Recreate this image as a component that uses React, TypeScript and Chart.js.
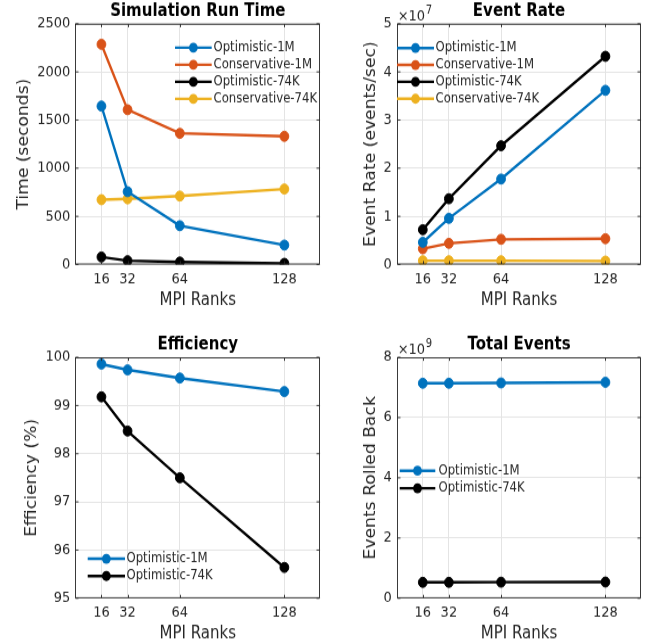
import React, { useEffect, useRef } from "react";
import { Chart, registerables } from "chart.js";

Chart.register(...registerables);

// ---------------- data ----------------
const ranks = [16, 32, 64, 128];
const xTickValues = [16, 32, 64, 128];

const runTimeOptimistic1M = [1645, 756, 403, 202];
const runTimeConservative1M = [2286, 1607, 1362, 1331];
const runTimeOptimistic74K = [78, 40, 26, 12];
const runTimeConservative74K = [673, 682, 711, 784];

const eventRateOptimistic1M = [0.461e7, 0.959e7, 1.775e7, 3.617e7];
const eventRateConservative1M = [0.328e7, 0.44e7, 0.523e7, 0.536e7];
const eventRateOptimistic74K = [0.723e7, 1.366e7, 2.467e7, 4.323e7];
const eventRateConservative74K = [0.079e7, 0.079e7, 0.078e7, 0.072e7];

const efficiencyOptimistic1M = [99.86, 99.74, 99.57, 99.29];
const efficiencyOptimistic74K = [99.18, 98.47, 97.5, 95.64];

const rolledBackOptimistic1M = [7.14e9, 7.14e9, 7.15e9, 7.17e9];
const rolledBackOptimistic74K = [0.53e9, 0.53e9, 0.535e9, 0.54e9];

const seriesNames = ["Optimistic-1M", "Conservative-1M", "Optimistic-74K", "Conservative-74K"];
const panelTitles = ["Simulation Run Time", "Event Rate", "Efficiency", "Total Events"];
const yAxisTitles = ["Time (seconds)", "Event Rate (events/sec)", "Efficiency (%)", "Events Rolled Back"];
const xAxisTitle = "MPI Ranks";

// ---------------- style ----------------
const FONT = "'DejaVu Sans', sans-serif";
const AXIS_COLOR = "#262626";
const GRID_COLOR = "#e4e4e4";
const BLUE = "#0072BD";
const ORANGE = "#D95319";
const BLACK = "#000000";
const YELLOW = "#EDB120";

// Each panel: CSS box 328x322, canvas drawn at 328x283 and stretched vertically
const CW = 328;
const CSS_H = 322;
const CH = 283;
const S = CSS_H / CH;
const XH = 40.2;
const Y_TITLE_SIZE = 15.1;

interface SeriesDef { label: string; data: number[]; color: string; }
interface PanelDef {
  pageX: number; pageY: number;
  title: string; yTitle: string;
  series: SeriesDef[];
  yMin: number; yMax: number; yStep: number; yDivisor: number; exponent: string | null;
  area: { left: number; right: number; top: number; bottom: number };
  titleY: number; yTitleX: number;
  legend: { x0: number; x1: number; tx: number; y0: number; dy: number };
}

// geometry below in CSS pixels relative to each panel; converted to canvas units
const panels: PanelDef[] = [
  {
    pageX: 0, pageY: 0,
    title: panelTitles[0], yTitle: yAxisTitles[0],
    series: [
      { label: seriesNames[0], data: runTimeOptimistic1M, color: BLUE },
      { label: seriesNames[1], data: runTimeConservative1M, color: ORANGE },
      { label: seriesNames[2], data: runTimeOptimistic74K, color: BLACK },
      { label: seriesNames[3], data: runTimeConservative74K, color: YELLOW },
    ],
    yMin: 0, yMax: 2500, yStep: 500, yDivisor: 1, exponent: null,
    area: { left: 75.3, right: 320.3, top: 23.7, bottom: 264.5 },
    titleY: 11.2, yTitleX: 24,
    legend: { x0: 175, x1: 211.7, tx: 213.5, y0: 47.6, dy: 17.1 },
  },
  {
    pageX: 328, pageY: 0,
    title: panelTitles[1], yTitle: yAxisTitles[1],
    series: [
      { label: seriesNames[0], data: eventRateOptimistic1M, color: BLUE },
      { label: seriesNames[1], data: eventRateConservative1M, color: ORANGE },
      { label: seriesNames[2], data: eventRateOptimistic74K, color: BLACK },
      { label: seriesNames[3], data: eventRateConservative74K, color: YELLOW },
    ],
    yMin: 0, yMax: 5e7, yStep: 1e7, yDivisor: 1e7, exponent: "7",
    area: { left: 68.7, right: 313.3, top: 23.7, bottom: 264.5 },
    titleY: 11.2, yTitleX: 43,
    legend: { x0: 69, x1: 106, tx: 107.5, y0: 48, dy: 16.9 },
  },
  {
    pageX: 0, pageY: 322,
    title: panelTitles[2], yTitle: yAxisTitles[2],
    series: [
      { label: seriesNames[0], data: efficiencyOptimistic1M, color: BLUE },
      { label: seriesNames[2], data: efficiencyOptimistic74K, color: BLACK },
    ],
    yMin: 95, yMax: 100, yStep: 1, yDivisor: 1, exponent: null,
    area: { left: 75.3, right: 320.3, top: 35.3, bottom: 276.3 },
    titleY: 23.0, yTitleX: 32.5,
    legend: { x0: 87.7, x1: 125, tx: 126.5, y0: 236.7, dy: 17.3 },
  },
  {
    pageX: 328, pageY: 322,
    title: panelTitles[3], yTitle: yAxisTitles[3],
    series: [
      { label: seriesNames[0], data: rolledBackOptimistic1M, color: BLUE },
      { label: seriesNames[2], data: rolledBackOptimistic74K, color: BLACK },
    ],
    yMin: 0, yMax: 8e9, yStep: 2e9, yDivisor: 1e9, exponent: "9",
    area: { left: 68.7, right: 313.3, top: 35.3, bottom: 276.3 },
    titleY: 23.0, yTitleX: 43,
    legend: { x0: 71.7, x1: 107.3, tx: 110.5, y0: 148.7, dy: 17.6 },
  },
];

const decoPlugin = {
  id: "deco",
  afterDraw(chart: any, _args: any, opts: any) {
    const { ctx, chartArea: a } = chart;
    const xs = chart.scales.x;
    const ys = chart.scales.y;
    ctx.save();
    ctx.strokeStyle = AXIS_COLOR;
    const L = Math.round(a.left) + 0.5;
    const R = Math.round(a.right) - 0.5;
    const T = a.top + 0.45;
    const B = a.bottom - 0.45;
    ctx.lineWidth = 0.9;
    ctx.strokeRect(L, T, R - L, B - T);
    const tl = 3;
    ctx.beginPath();
    xs.ticks.forEach((t: any) => {
      const px = Math.round(xs.getPixelForValue(t.value)) + 0.5;
      ctx.moveTo(px, B); ctx.lineTo(px, B - tl / S);
      ctx.moveTo(px, T); ctx.lineTo(px, T + tl / S);
    });
    ys.ticks.forEach((t: any) => {
      const py = ys.getPixelForValue(t.value);
      ctx.moveTo(L, py); ctx.lineTo(L + tl, py);
      ctx.moveTo(R, py); ctx.lineTo(R - tl, py);
    });
    ctx.stroke();

    if (opts.exponent) {
      ctx.fillStyle = AXIS_COLOR;
      ctx.textAlign = "left";
      ctx.textBaseline = "middle";
      ctx.font = `13px ${FONT}`;
      const ex = a.left + 1;
      const ey = a.top - 7.6 / S;
      ctx.fillText("\u00d710", ex, ey);
      const w = ctx.measureText("\u00d710").width;
      ctx.font = `10px ${FONT}`;
      ctx.fillText(opts.exponent, ex + w + 0.5, ey - 5.5 / S);
    }

    const lg = opts.legend;
    chart.data.datasets.forEach((ds: any, i: number) => {
      const y = (lg.y0 + i * lg.dy) / S;
      ctx.strokeStyle = ds.borderColor;
      ctx.lineWidth = 2.4;
      ctx.beginPath();
      ctx.moveTo(lg.x0, y);
      ctx.lineTo(lg.x1, y);
      ctx.stroke();
      ctx.fillStyle = ds.borderColor;
      ctx.beginPath();
      ctx.arc((lg.x0 + lg.x1) / 2, y, 4.4, 0, Math.PI * 2);
      ctx.fill();
      ctx.fillStyle = AXIS_COLOR;
      ctx.font = `11.7px ${FONT}`;
      ctx.textBaseline = "middle";
      ctx.textAlign = "left";
      ctx.fillText(ds.label, lg.tx, y);
    });
    ctx.restore();
  },
};

function Panel({ def }: { def: PanelDef }) {
  const ref = useRef<HTMLCanvasElement | null>(null);
  useEffect(() => {
    if (!ref.current) return;
    const a = {
      left: def.area.left,
      right: def.area.right,
      top: def.area.top / S,
      bottom: def.area.bottom / S,
    };
    const titleY = def.titleY / S;
    const tPadTop = titleY - 9;
    const tPadBottom = a.top - tPadTop - 18;
    const yTitleHalf = (Y_TITLE_SIZE * 1.2) / 2;
    const xTitleBottomPad = Math.max(0, XH - 35.5 / S - 9);
    const chart = new Chart(ref.current, {
      type: "line",
      data: {
        datasets: def.series.map((s) => ({
          label: s.label,
          data: ranks.map((r, i) => ({ x: r, y: s.data[i] })),
          borderColor: s.color,
          backgroundColor: s.color,
          borderWidth: 2.4,
          pointRadius: 4.4,
          pointHoverRadius: 4.4,
          pointBackgroundColor: s.color,
          pointBorderColor: s.color,
          pointBorderWidth: 1,
          tension: 0,
          fill: false,
        })),
      },
      options: {
        responsive: false,
        maintainAspectRatio: false,
        animation: false,
        devicePixelRatio: 1,
        events: [],
        layout: {
          padding: { left: 0, right: CW - a.right, top: 0, bottom: Math.max(0, CH - a.bottom - XH) },
        },
        plugins: {
          legend: { display: false },
          tooltip: { enabled: false },
          title: {
            display: true,
            text: def.title,
            color: "#000000",
            fullSize: false,
            align: "center",
            font: { family: FONT, size: 15, weight: "bold" },
            padding: { top: tPadTop, bottom: tPadBottom },
          },
          deco: { exponent: def.exponent, legend: def.legend },
        } as any,
        scales: {
          x: {
            type: "linear",
            min: 0,
            max: 150,
            afterBuildTicks: (s: any) => {
              s.ticks = xTickValues.map((v) => ({ value: v }));
            },
            afterFit: (s: any) => {
              s.height = XH;
            },
            ticks: {
              autoSkip: false,
              maxRotation: 0,
              padding: 15 / S - 7.8,
              color: AXIS_COLOR,
              font: { family: FONT, size: 13 },
              callback: (v: any) => String(v),
            },
            grid: { color: GRID_COLOR, lineWidth: 1, drawTicks: false },
            border: { display: false },
            title: {
              display: true,
              text: xAxisTitle,
              color: AXIS_COLOR,
              font: { family: FONT, size: 15 },
              padding: { top: 0, bottom: xTitleBottomPad },
            },
          },
          y: {
            type: "linear",
            min: def.yMin,
            max: def.yMax,
            afterFit: (s: any) => {
              s.width = a.left;
            },
            ticks: {
              stepSize: def.yStep,
              padding: 5,
              color: AXIS_COLOR,
              font: { family: FONT, size: 13 },
              callback: (v: any) => String(Math.round((Number(v) / def.yDivisor) * 1000) / 1000),
            },
            grid: { color: GRID_COLOR, lineWidth: 1, drawTicks: false },
            border: { display: false },
            title: {
              display: true,
              text: def.yTitle,
              color: AXIS_COLOR,
              font: { family: FONT, size: Y_TITLE_SIZE },
              padding: { top: def.yTitleX - yTitleHalf, bottom: 0 },
            },
          },
        },
      } as any,
      plugins: [decoPlugin as any],
    });
    return () => chart.destroy();
  }, [def]);
  return (
    <canvas
      ref={ref}
      width={CW}
      height={CH}
      style={{ position: "absolute", left: def.pageX, top: def.pageY, width: CW, height: CSS_H }}
    />
  );
}

export default function App() {
  return (
    <div style={{ position: "absolute", left: 0, top: 0, width: 656, height: 644, background: "#ffffff" }}>
      {panels.map((p, i) => (
        <Panel key={i} def={p} />
      ))}
    </div>
  );
}
